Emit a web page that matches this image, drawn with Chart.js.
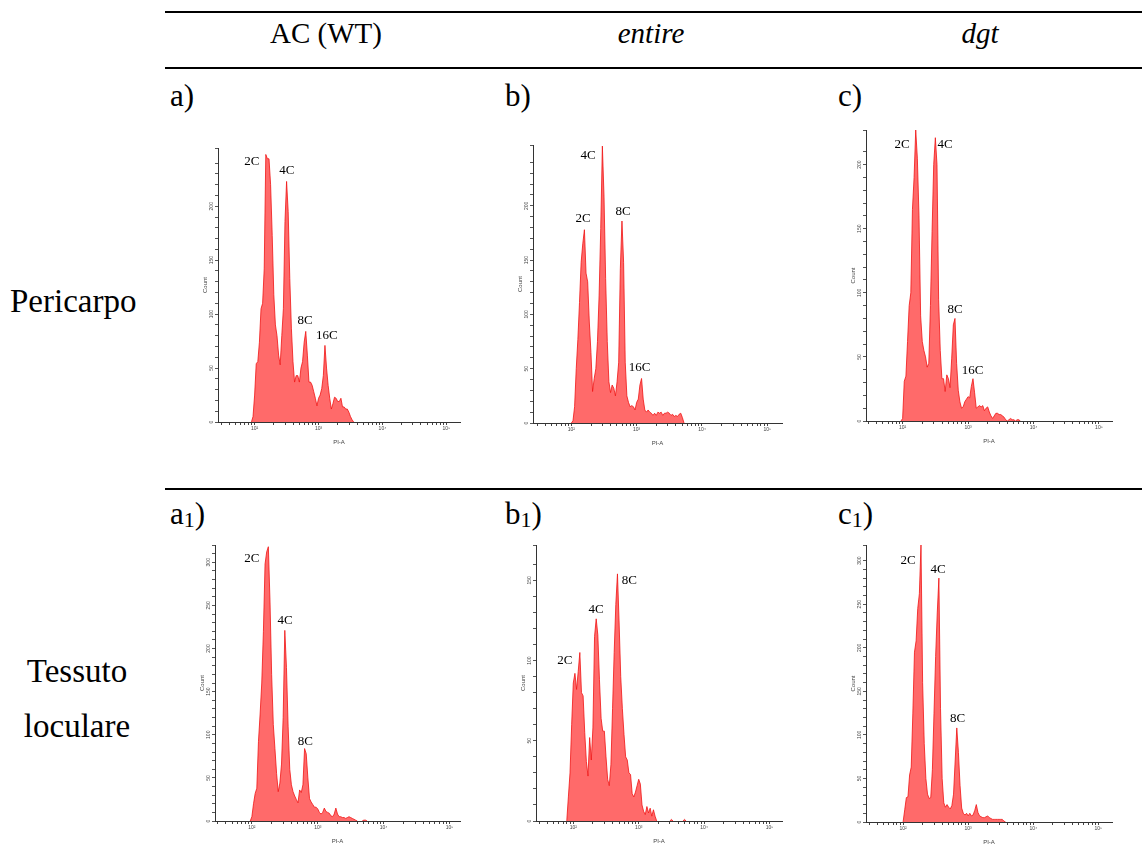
<!DOCTYPE html>
<html>
<head>
<meta charset="utf-8">
<script src="https://cdn.jsdelivr.net/npm/chart.js@4.4.1/dist/chart.umd.min.js"></script>
<style>
  html, body { margin: 0; padding: 0; background: #fff; }
  body { width: 1142px; height: 862px; position: relative; overflow: hidden; font-family: 'Liberation Serif', serif; color: #000; }
  .rule { position: absolute; left: 165px; width: 977px; height: 2px; background: #000; }
  .txt { position: absolute; white-space: nowrap; line-height: 1; font-size: 29px; }
  .tag { font-size: 31px; }
  .row { font-size: 33px; }
  .mid { transform: translate(-50%, -50%); }
  .left { transform: translateY(-50%); }
  .it { font-style: italic; }
  .sub { font-size: 22px; position: relative; top: 3px; }
  canvas { position: absolute; }
</style>
</head>
<body>
<div class="rule" style="top:11px"></div>
<div class="rule" style="top:67px"></div>
<div class="rule" style="top:488px"></div>

<div class="txt mid" style="left:326px; top:33px">AC (WT)</div>
<div class="txt mid it" style="left:651px; top:33px">entire</div>
<div class="txt mid it" style="left:980px; top:33px">dgt</div>

<div class="txt left tag" style="left:170px; top:95px">a)</div>
<div class="txt left tag" style="left:505px; top:95px">b)</div>
<div class="txt left tag" style="left:838px; top:95px">c)</div>
<div class="txt left tag" style="left:170px; top:513px">a<span class="sub">1</span>)</div>
<div class="txt left tag" style="left:505px; top:513px">b<span class="sub">1</span>)</div>
<div class="txt left tag" style="left:838px; top:513px">c<span class="sub">1</span>)</div>

<div class="txt left row" style="left:10px; top:301px">Pericarpo</div>
<div class="txt mid row" style="left:77px; top:671px">Tessuto</div>
<div class="txt mid row" style="left:77px; top:726px">loculare</div>

<canvas id="pa"></canvas>
<canvas id="pb"></canvas>
<canvas id="pc"></canvas>
<canvas id="la"></canvas>
<canvas id="lb"></canvas>
<canvas id="lc"></canvas>

<script>
// canali PI-A (log10), condivisi da tutti gli istogrammi
const logPI = [
  1.900, 1.925, 1.950, 1.975, 2.000, 2.025, 2.050, 2.075, 2.100, 2.125,
  2.150, 2.175, 2.200, 2.225, 2.250, 2.275, 2.300, 2.325, 2.350, 2.375,
  2.400, 2.425, 2.450, 2.475, 2.500, 2.525, 2.550, 2.575, 2.600, 2.625,
  2.650, 2.675, 2.700, 2.725, 2.750, 2.775, 2.800, 2.825, 2.850, 2.875,
  2.900, 2.925, 2.950, 2.975, 3.000, 3.025, 3.050, 3.075, 3.100, 3.125,
  3.150, 3.175, 3.200, 3.225, 3.250, 3.275, 3.300, 3.325, 3.350, 3.375,
  3.400, 3.425, 3.450, 3.475, 3.500, 3.525, 3.550, 3.575, 3.600, 3.625,
  3.650, 3.675, 3.700, 3.725, 3.750, 3.775, 3.800
];

// Pericarpo
const countPeriWT = [
  0, 0, 0, 5, 25, 54, 56, 74, 105, 110,
  142, 248, 244, 244, 220, 173, 118, 90, 80, 62,
  53, 80, 105, 186, 223, 195, 133, 87, 56, 37,
  43, 43, 37, 50, 56, 74, 84, 62, 37, 37,
  34, 28, 22, 15, 22, 25, 31, 43, 71, 50,
  34, 22, 12, 17, 23, 22, 19, 19, 22, 14,
  14, 12, 12, 9, 5, 2, 0, 0, 0, 0,
  0, 0, 0, 0, 0, 0, 0
];
const countPeriEntire = [
  0, 0, 0, 0, 0, 2, 15, 50, 77, 111,
  148, 165, 178, 138, 130, 93, 65, 29, 41, 50,
  75, 117, 179, 255, 209, 133, 75, 38, 28, 35,
  32, 25, 38, 56, 142, 186, 148, 56, 25, 19,
  15, 16, 15, 12, 19, 22, 35, 41, 22, 12,
  10, 12, 10, 9, 7, 9, 7, 10, 9, 10,
  7, 9, 9, 10, 9, 7, 8, 6, 7, 6,
  8, 9, 5, 0, 0, 0, 0
];
const countPeriDgt = [
  0, 0, 0, 0, 2, 31, 35, 62, 90, 100,
  165, 190, 227, 205, 160, 82, 62, 55, 50, 42,
  45, 90, 148, 200, 221, 200, 95, 55, 33, 33,
  23, 36, 33, 26, 49, 75, 80, 45, 24, 15,
  10, 11, 15, 17, 19, 18, 27, 33, 22, 10,
  11, 12, 11, 12, 8, 10, 11, 7, 4, 2,
  4, 6, 6, 5, 5, 4, 3, 1, 0, 1,
  2, 1, 1, 0, 1, 1, 0
];

// Tessuto loculare
const countLocWT = [
  0, 0, 0, 0, 5, 20, 32, 38, 92, 124,
  160, 220, 298, 312, 318, 255, 170, 112, 84, 55,
  34, 44, 66, 120, 221, 178, 110, 60, 42, 34,
  29, 25, 21, 36, 33, 42, 84, 78, 50, 26,
  22, 19, 16, 16, 14, 10, 8, 10, 15, 11,
  10, 9, 6, 5, 8, 15, 8, 5, 5, 4,
  4, 3, 4, 5, 4, 3, 2, 1, 0, 0,
  0, 0, 1, 1, 0, 0, 0
];
const countLocEntire = [
  0, 15, 30, 60, 86, 92, 82, 93, 105, 80,
  78, 55, 37, 28, 52, 38, 58, 115, 126, 116,
  88, 64, 56, 56, 40, 26, 22, 35, 70, 105,
  135, 154, 124, 90, 70, 54, 40, 38, 30, 29,
  17, 15, 18, 22, 26, 23, 10, 6, 4, 9,
  5, 8, 3, 7, 3, 0, 0, 0, 0, 0,
  0, 0, 0, 0, 1, 0, 0, 0, 0, 0,
  0, 0, 1, 0, 0, 0, 0
];
const countLocDgt = [
  0, 0, 0, 0, 0, 14, 28, 29, 54, 63,
  125, 195, 208, 245, 262, 318, 160, 90, 50, 32,
  27, 28, 60, 125, 190, 240, 280, 130, 50, 22,
  17, 20, 17, 15, 19, 32, 70, 108, 80, 42,
  16, 10, 8, 10, 7, 10, 7, 8, 13, 20,
  11, 7, 6, 5, 5, 6, 7, 5, 4, 3,
  3, 3, 3, 3, 3, 3, 1, 0, 0, 0,
  0, 0, 0, 0, 0, 0, 0
];

// etichette degli assi
const xTickLabels = { 100: '10²', 1000: '10³', 10000: '10⁴', 100000: '10⁵' };
const yLabelStep = 50;
const yMinorStep = 10;

// geometria dei pannelli: area del grafico [sinistra, alto, destra, basso] in px
const panels = [
  { id: 'pa', counts: countPeriWT, yMax: 254, area: [218, 148, 460, 422], xLog: [1.427, 5.213],
    peaks: [['2C', 1.958, 241], ['4C', 2.505, 233], ['8C', 2.79, 94], ['16C', 3.13, 80]] },
  { id: 'pb', counts: countPeriEntire, yMax: 256, area: [533, 145, 782, 423], xLog: [1.413, 5.225],
    peaks: [['4C', 2.255, 246], ['2C', 2.179, 188], ['8C', 2.791, 195], ['16C', 3.046, 51]] },
  { id: 'pc', counts: countPeriDgt, yMax: 227, area: [866, 130, 1112, 421], xLog: [1.44, 5.2],
    peaks: [['2C', 1.99, 216], ['4C', 2.648, 216], ['8C', 2.80, 87], ['16C', 3.071, 39]] },
  { id: 'la', counts: countLocWT, yMax: 320, area: [215, 545, 460, 821], xLog: [1.44, 5.16],
    peaks: [['2C', 2.0, 304], ['4C', 2.506, 232], ['8C', 2.81, 92]] },
  { id: 'lb', counts: countLocEntire, yMax: 172, area: [536, 545, 782, 821], xLog: [1.43, 5.19],
    peaks: [['2C', 1.872, 100], ['4C', 2.347, 132], ['8C', 2.857, 150]] },
  { id: 'lc', counts: countLocDgt, yMax: 318, area: [866, 545, 1112, 822], xLog: [1.43, 5.21],
    peaks: [['2C', 2.077, 300], ['4C', 2.538, 290], ['8C', 2.836, 119]] }
];

const Y_AXIS_W = 16;
const X_AXIS_H = 24;
const PAD_TOP = 4;
const PAD_RIGHT = 4;

// scritte 2C / 4C / 8C / 16C sopra i picchi
const peakLabelPlugin = {
  id: 'peakLabels',
  afterDatasetsDraw(chart, args, opts) {
    const { ctx, scales } = chart;
    ctx.save();
    ctx.font = '13px "Liberation Serif"';
    ctx.fillStyle = '#000';
    ctx.textAlign = 'center';
    ctx.textBaseline = 'middle';
    for (const [text, lx, cy] of opts.items) {
      ctx.fillText(text, scales.x.getPixelForValue(10 ** lx), scales.y.getPixelForValue(cy));
    }
    ctx.restore();
  }
};

function logTicks(min, max) {
  const out = [];
  for (let e = 1; e <= 5; e++) {
    for (let k = 1; k <= 9; k++) {
      const v = k * 10 ** e;
      if (v >= min && v <= max) out.push({ value: v });
    }
  }
  return out;
}

function drawHistogram(p) {
  const [l, t, r, b] = p.area;
  const canvas = document.getElementById(p.id);
  const w = r - l + Y_AXIS_W + PAD_RIGHT;
  const h = b - t + PAD_TOP + X_AXIS_H;
  canvas.width = w;
  canvas.height = h;
  canvas.style.left = (l - Y_AXIS_W) + 'px';
  canvas.style.top = (t - PAD_TOP) + 'px';
  canvas.style.width = w + 'px';
  canvas.style.height = h + 'px';

  const points = logPI.map((v, i) => ({ x: 10 ** v, y: p.counts[i] }));
  const axisFont = { family: '"Liberation Sans", Arial, sans-serif', size: 5 };

  return new Chart(canvas, {
    type: 'line',
    data: {
      datasets: [{
        data: points,
        fill: 'origin',
        backgroundColor: 'rgba(255, 85, 85, 0.88)',
        borderColor: 'rgb(240, 20, 20)',
        borderWidth: 0.8,
        pointRadius: 0,
        tension: 0,
        segment: {
          // niente linea rossa sopra l'asse dove il conteggio è zero
          borderColor: ctx => (ctx.p0.parsed.y === 0 && ctx.p1.parsed.y === 0) ? 'rgba(0,0,0,0)' : undefined
        }
      }]
    },
    options: {
      responsive: false,
      animation: false,
      events: [],
      layout: { padding: { top: PAD_TOP, right: PAD_RIGHT, left: 0, bottom: 0 } },
      plugins: {
        legend: { display: false },
        tooltip: { enabled: false },
        peakLabels: { items: p.peaks }
      },
      scales: {
        x: {
          type: 'logarithmic',
          min: 10 ** p.xLog[0],
          max: 10 ** p.xLog[1],
          afterBuildTicks: s => { s.ticks = logTicks(s.min, s.max); },
          afterFit: s => { s.height = X_AXIS_H; },
          grid: { drawOnChartArea: false, tickLength: 3, tickColor: '#444', tickWidth: 1 },
          border: { color: '#333', width: 1 },
          ticks: {
            autoSkip: false,
            maxRotation: 0,
            padding: 1,
            color: '#444',
            font: axisFont,
            callback: v => xTickLabels[v] || ''
          },
          title: { display: true, text: 'PI-A', color: '#444', font: { family: axisFont.family, size: 6 }, padding: 0 }
        },
        y: {
          min: 0,
          max: p.yMax,
          afterFit: s => { s.width = Y_AXIS_W; },
          grid: { drawOnChartArea: false, tickLength: 3, tickColor: '#555', tickWidth: 1 },
          border: { color: '#333', width: 1 },
          ticks: {
            stepSize: yMinorStep,
            autoSkip: false,
            minRotation: 90,
            maxRotation: 90,
            crossAlign: 'center',
            padding: -1,
            color: '#444',
            font: axisFont,
            callback: v => (v % yLabelStep === 0 ? String(v) : '')
          },
          title: { display: true, text: 'Count', color: '#444', font: { family: axisFont.family, size: 6 }, padding: 0 }
        }
      }
    },
    plugins: [peakLabelPlugin]
  });
}

panels.forEach(drawHistogram);
</script>
</body>
</html>
